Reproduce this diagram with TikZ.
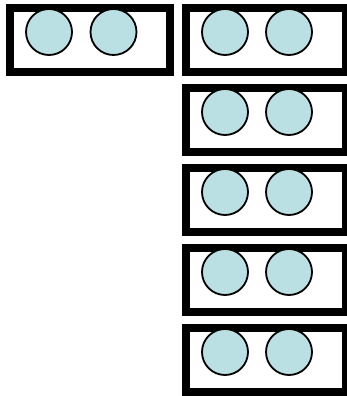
\documentclass[tikz,border=0pt]{standalone}
\usepackage{xcolor}
\usepackage{tikz}
\usetikzlibrary{positioning, calc}
\definecolor{ballblue}{HTML}{BBE0E3}
\definecolor{trayink}{HTML}{000000}

\begin{document}
\begin{tikzpicture}[x=1pt, y=-1pt,
        tray/.style={draw=trayink, line width=8pt, minimum width=160pt, minimum height=64pt, inner sep=0pt},
        ball/.style={circle, draw=trayink, fill=ballblue, line width=1.8pt, minimum size=46pt, inner sep=0pt}
    ]
        \useasboundingbox (0,0) rectangle (347,396);
        \clip (0,0) rectangle (347,396);
        \node (lefttray) [tray] at (90,40) {};
        \node (tray1) [tray, right=8pt of lefttray] {};
        \node (tray2) [tray, below=8pt of tray1] {};
        \node (tray3) [tray, below=8pt of tray2] {};
        \node (tray4) [tray, below=8pt of tray3] {};
        \node (tray5) [tray, below=8pt of tray4] {};

        \node (leftballa) [ball] at ($(lefttray.center)+(-41,-8)$) {};
        \node (leftballb) [ball] at ($(lefttray.center)+(23.5,-8)$) {};
        \node (ball1a) [ball] at ($(tray1.center)+(-41,-8)$) {};
        \node (ball1b) [ball] at ($(tray1.center)+(23,-8)$) {};
        \node (ball2a) [ball] at ($(tray2.center)+(-41,-8)$) {};
        \node (ball2b) [ball] at ($(tray2.center)+(23,-8)$) {};
        \node (ball3a) [ball] at ($(tray3.center)+(-41,-8)$) {};
        \node (ball3b) [ball] at ($(tray3.center)+(23,-8)$) {};
        \node (ball4a) [ball] at ($(tray4.center)+(-41,-8)$) {};
        \node (ball4b) [ball] at ($(tray4.center)+(23,-8)$) {};
        \node (ball5a) [ball] at ($(tray5.center)+(-41,-8)$) {};
        \node (ball5b) [ball] at ($(tray5.center)+(23,-8)$) {};
    \end{tikzpicture}
\end{document}
